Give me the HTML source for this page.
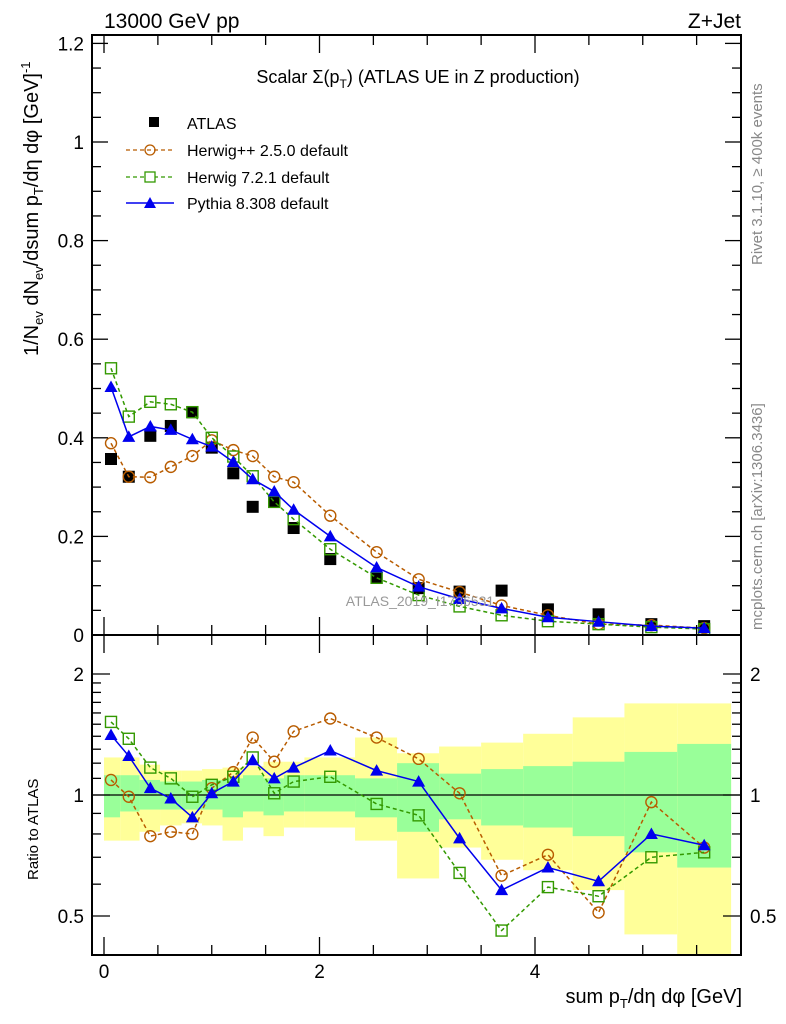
<!DOCTYPE html>
<html><head><meta charset="utf-8"><style>
body{margin:0;background:#fff}
svg{display:block;font-family:"Liberation Sans",sans-serif}
</style></head><body>
<svg id="c" width="786" height="1024" viewBox="0 0 786 1024" xmlns="http://www.w3.org/2000/svg">
<g id="bands"></g>
<g id="marks"></g>
<g id="axes"></g>
<text x="104" y="28" font-size="21">13000 GeV pp</text>
<text x="741" y="28" font-size="21" text-anchor="end">Z+Jet</text>
<text x="418" y="83" font-size="18" text-anchor="middle">Scalar Σ(p<tspan font-size="12" dy="5">T</tspan><tspan dy="-5">) (ATLAS UE in Z production)</tspan></text>
<text x="420" y="606" font-size="14" fill="#999" text-anchor="middle">ATLAS_2019_I1736531</text>
<text transform="translate(762,265) rotate(-90)" font-size="15" fill="#888">Rivet 3.1.10, ≥ 400k events</text>
<text transform="translate(762,630) rotate(-90)" font-size="15" fill="#888">mcplots.cern.ch [arXiv:1306.3436]</text>
<text transform="translate(38,356) rotate(-90)" font-size="20">1/N<tspan font-size="13" dy="5">ev</tspan><tspan dy="-5"> dN</tspan><tspan font-size="13" dy="5">ev</tspan><tspan dy="-5">/dsum p</tspan><tspan font-size="13" dy="5">T</tspan><tspan dy="-5">/dη dφ  [GeV]</tspan><tspan font-size="13" dy="-8">-1</tspan></text>
<text transform="translate(38,880) rotate(-90)" font-size="15">Ratio to ATLAS</text>
<text x="742" y="1003" font-size="20" text-anchor="end">sum p<tspan font-size="13" dy="5">T</tspan><tspan dy="-5">/dη dφ [GeV]</tspan></text>
<g font-size="16">
<rect x="149" y="117" width="10" height="10" fill="#000"/>
<text x="187" y="129">ATLAS</text>
<line x1="126" y1="150" x2="174" y2="150" stroke="#b85c00" stroke-dasharray="4,3" stroke-width="1.3"/>
<circle cx="150" cy="150" r="5" fill="none" stroke="#b85c00" stroke-width="1.3"/>
<text x="187" y="156">Herwig++ 2.5.0 default</text>
<line x1="126" y1="177" x2="174" y2="177" stroke="#339900" stroke-dasharray="4,3" stroke-width="1.3"/>
<rect x="145" y="172" width="10" height="10" fill="#fff" stroke="#339900" stroke-width="1.3"/>
<text x="187" y="183">Herwig 7.2.1 default</text>
<line x1="126" y1="203" x2="174" y2="203" stroke="#0000ee" stroke-width="1.5"/>
<path d="M150,197 L156,208 L144,208 Z" fill="#0000ee"/>
<text x="187" y="209">Pythia 8.308 default</text>
</g>
</svg>
<script>
const xCenters=[0.065,0.23,0.43,0.62,0.82,1.0,1.2,1.38,1.58,1.76,2.1,2.53,2.92,3.3,3.69,4.12,4.59,5.08,5.57];
const binEdges=[0,0.15,0.33,0.52,0.72,0.91,1.1,1.29,1.48,1.67,1.86,2.33,2.72,3.11,3.5,3.89,4.35,4.83,5.32,5.82];
const atlas=[0.357,0.321,0.404,0.424,0.452,0.38,0.328,0.26,0.27,0.217,0.154,0.116,0.095,0.088,0.09,0.052,0.042,0.022,0.018];
const herwigpp=[0.389,0.321,0.32,0.341,0.363,0.395,0.375,0.363,0.321,0.31,0.242,0.168,0.113,0.087,0.06,0.04,0.022,0.02,0.014];
const herwig7=[0.541,0.443,0.473,0.468,0.452,0.40,0.362,0.322,0.27,0.235,0.174,0.116,0.081,0.058,0.04,0.028,0.022,0.016,0.012];
const pythia=[0.503,0.402,0.423,0.416,0.397,0.382,0.351,0.316,0.291,0.254,0.2,0.137,0.098,0.073,0.054,0.036,0.027,0.018,0.014];
const ratioHerwigpp=[1.09,0.99,0.79,0.81,0.80,1.04,1.14,1.39,1.21,1.44,1.55,1.39,1.23,1.01,0.63,0.71,0.51,0.96,0.74];
const ratioHerwig7=[1.52,1.38,1.17,1.10,0.99,1.06,1.11,1.24,1.01,1.08,1.11,0.95,0.89,0.64,0.46,0.59,0.56,0.70,0.72];
const ratioPythia=[1.41,1.25,1.04,0.98,0.88,1.01,1.08,1.22,1.10,1.17,1.29,1.15,1.08,0.78,0.58,0.66,0.61,0.80,0.75];
const yellowHi=[1.24,1.24,1.19,1.15,1.15,1.16,1.17,1.18,1.21,1.21,1.24,1.39,1.27,1.32,1.35,1.42,1.56,1.69,1.69];
const yellowLo=[0.77,0.77,0.81,0.84,0.85,0.84,0.77,0.83,0.79,0.83,0.83,0.77,0.62,0.74,0.69,0.65,0.58,0.45,0.40];
const greenHi=[1.12,1.12,1.09,1.08,1.08,1.09,1.10,1.12,1.10,1.12,1.12,1.10,1.20,1.13,1.16,1.18,1.21,1.28,1.34];
const greenLo=[0.88,0.91,0.92,0.92,0.92,0.92,0.88,0.91,0.89,0.91,0.91,0.88,0.81,0.87,0.84,0.83,0.79,0.72,0.66];
const mainYTicks=["0","0.2","0.4","0.6","0.8","1","1.2"];
const xTicks=["0","2","4"];
const ratioTicks=["0.5","1","2"];

const NS="http://www.w3.org/2000/svg";
const L=92,R=741,T=35,MB=635,RB=955;
const X=v=>104+v*107.75;
const Y=v=>MB-v*493;
const RY=v=>795-121*Math.log2(v);
function mk(tag,at,parent){const e=document.createElementNS(NS,tag);for(const k in at)e.setAttribute(k,at[k]);parent.appendChild(e);return e;}
const bands=document.getElementById('bands'),marks=document.getElementById('marks'),axes=document.getElementById('axes');
const clip=v=>Math.max(Math.min(v,RB),MB);
for(let i=0;i<xCenters.length;i++){
  const x0=X(binEdges[i]),x1=X(binEdges[i+1]);
  let r=mk('rect',{x:x0,y:clip(RY(yellowHi[i])),width:x1-x0,height:clip(RY(yellowLo[i]))-clip(RY(yellowHi[i])),fill:'#ffff99'},bands);
  
  
  r=mk('rect',{x:x0,y:clip(RY(greenHi[i])),width:x1-x0,height:clip(RY(greenLo[i]))-clip(RY(greenHi[i])),fill:'#99ff99'},bands);
  
  
}
let ref=mk('line',{x1:L,x2:R,y1:RY(1),y2:RY(1),stroke:'#000','stroke-width':1.2},bands);


function series(vals,yf,color,dash,marker,name){
  const g=mk('g',{},marks);
  
  
  const pts=vals.map((v,i)=>X(xCenters[i])+','+yf(v)).join(' ');
  const a={points:pts,fill:'none',stroke:color,'stroke-width':1.5};
  if(dash)a['stroke-dasharray']='4,3';
  mk('polyline',a,g);
  vals.forEach((v,i)=>{
    const cx=X(xCenters[i]),cy=yf(v);let m;
    if(marker==='circle')m=mk('circle',{cx:cx,cy:cy,r:5.5,fill:'none',stroke:color,'stroke-width':1.4},g);
    else if(marker==='square')m=mk('rect',{x:cx-5.5,y:cy-5.5,width:11,height:11,fill:'none',stroke:color,'stroke-width':1.4},g);
    else m=mk('path',{d:`M${cx},${cy-6.5}L${cx+6.5},${cy+5}L${cx-6.5},${cy+5}Z`,fill:color},g);
    
    
  });
}
const ag=mk('g',{},marks);


atlas.forEach((v,i)=>{const m=mk('rect',{x:X(xCenters[i])-6,y:Y(v)-6,width:12,height:12,fill:'#000'},ag);
  
  });
series(herwigpp,Y,'#b85c00',true,'circle','herwigpp-main');
series(herwig7,Y,'#339900',true,'square','herwig7-main');
series(pythia,Y,'#0000ee',false,'tri','pythia-main');
series(ratioHerwigpp,RY,'#b85c00',true,'circle','herwigpp-ratio');
series(ratioHerwig7,RY,'#339900',true,'square','herwig7-ratio');
series(ratioPythia,RY,'#0000ee',false,'tri','pythia-ratio');
mk('rect',{x:L,y:T,width:R-L,height:MB-T,fill:'none',stroke:'#000','stroke-width':2},axes);
mk('rect',{x:L,y:MB,width:R-L,height:RB-MB,fill:'none',stroke:'#000','stroke-width':2},axes);
function tk(x1,y1,x2,y2){mk('line',{x1,y1,x2,y2,stroke:'#000','stroke-width':1.3},axes);}
for(let k=0;k<=24;k++){const v=k*0.05;const y=Y(v),big=(k%4===0);const len=big?16:9;tk(L,y,L+len,y);tk(R,y,R-len,y);}
mainYTicks.forEach(s=>{const t=mk('text',{x:84,y:Y(+s)+7,'font-size':19,'text-anchor':'end'},axes);t.textContent=s;
  
  });
for(let k=0;k<=11;k++){const v=k*0.5;const x=X(v),big=(k%4===0);const len=big?18:10;
  tk(x,MB,x,MB-len);tk(x,T,x,T+len);tk(x,RB,x,RB-len);tk(x,MB,x,MB+len);}
xTicks.forEach(s=>{const t=mk('text',{x:X(+s),y:978,'font-size':19,'text-anchor':'middle'},axes);t.textContent=s;
  
  });
[0.4,0.5,0.6,0.7,0.8,0.9,1,1.1,1.2,1.3,1.4,1.5,1.6,1.7,1.8,1.9,2,2.5].forEach(v=>{const y=RY(v);if(y<MB||y>RB)return;
  const big=(v===0.5||v===1||v===2);const len=big?18:9;tk(L,y,L+len,y);tk(R,y,R-len,y);});
ratioTicks.forEach(s=>{[84,750].forEach((x,j)=>{const t=mk('text',{x:x,y:RY(+s)+7,'font-size':19,'text-anchor':j?'start':'end'},axes);t.textContent=s;
  
  });});
</script>
</body></html>
